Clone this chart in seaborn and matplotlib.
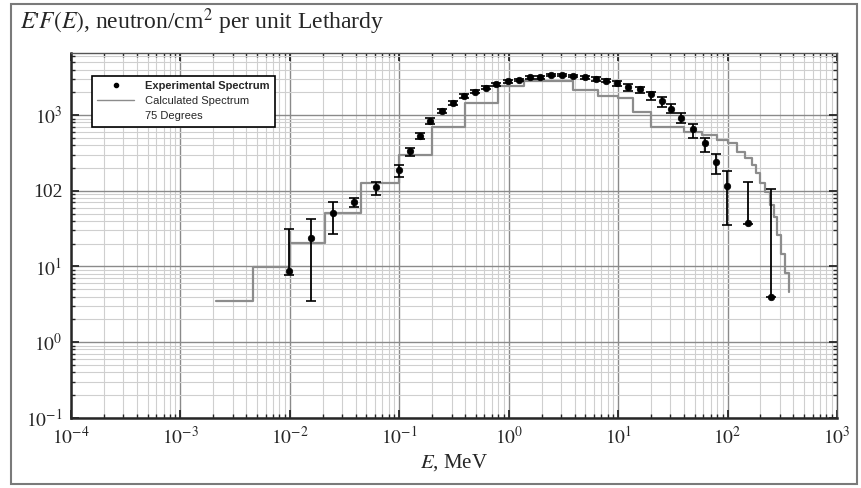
import numpy as np
import pandas as pd
import seaborn as sns
import matplotlib.pyplot as plt
from matplotlib.lines import Line2D
from matplotlib.patches import Rectangle
from matplotlib.ticker import LogLocator, FixedLocator, FixedFormatter, NullFormatter

# calculated spectrum (step histogram, left bin edges + level)
calc_E = [2.1e-3, 4.6e-3, 0.01, 0.021, 0.045, 0.1, 0.2, 0.4, 0.8, 1.38, 3.9, 6.5, 10, 13.8, 20,
          40, 58, 80, 100, 122, 145, 167, 183, 199, 221, 245, 267, 282, 307, 336, 368]
calc_F = [3.46, 9.85, 20.1, 51, 125, 296, 700, 1455, 2419, 2817, 2174, 1784, 1679, 1106, 700,
          601, 544, 467, 422, 327, 267, 218, 169, 125, 96.7, 64.5, 45.2, 25.9, 14.8, 8.06, 4.6]

# experimental spectrum with error bounds
exp_E = [0.0099, 0.0156, 0.0247, 0.0386, 0.0614, 0.100, 0.124, 0.155, 0.191, 0.245, 0.312, 0.394,
         0.493, 0.618, 0.767, 0.981, 1.25, 1.57, 1.94, 2.44, 3.06, 3.90, 4.99, 6.30, 7.77, 9.72,
         12.4, 15.7, 19.9, 25.1, 30.5, 37.7, 48.8, 62.4, 78.7, 98.5, 155, 249]
exp_F = [8.7, 23.4, 50.1, 71.3, 112.6, 187, 334, 528, 833, 1129, 1455, 1784, 2033, 2297, 2547,
         2817, 2904, 3153, 3153, 3381, 3381, 3311, 3153, 2994, 2842, 2627, 2367, 2188, 1878, 1546,
         1190, 921, 647, 430, 241, 115, 36.9, 4.0]
exp_hi = [30.8, 42.1, 71.3, 80.5, 128.8, 218, 362, 583, 904, 1200, 1540, 1880, 2150, 2420, 2680,
          2950, 3030, 3280, 3280, 3500, 3500, 3430, 3300, 3150, 3000, 2842, 2570, 2380, 2033, 1714,
          1398, 1073, 760, 492, 305, 183, 131, 107]
exp_lo = [7.65, 3.46, 26.4, 61.2, 87.5, 153, 287, 486, 753, 1060, 1350, 1700, 1930, 2180, 2420,
          2680, 2780, 3020, 3020, 3260, 3260, 3190, 3020, 2860, 2700, 2440, 2100, 1980, 1580, 1264,
          1053, 777, 492, 327, 166, 35.1, 36.0, 3.9]

ytick_vals = [0.1, 1, 10, 100, 1000]
ytick_labels = [r'$10^{-1}$', r'$10^{0}$', r'$10^{1}$', '102', r'$10^{3}$']
xtick_vals = [1e-4, 1e-3, 1e-2, 1e-1, 1, 10, 100, 1000]
xtick_labels = [r'$10^{-4}$', r'$10^{-3}$', r'$10^{-2}$', r'$10^{-1}$', r'$10^{0}$',
                r'$10^{1}$', r'$10^{2}$', r'$10^{3}$']

calc = pd.DataFrame({'E': calc_E, 'F': calc_F})
exp = pd.DataFrame({'E': exp_E, 'F': exp_F, 'hi': exp_hi, 'lo': exp_lo})

sns.set_style("ticks")
plt.rcParams['font.family'] = ['Liberation Serif', 'DejaVu Serif']
plt.rcParams['mathtext.fontset'] = 'stix'

fig = plt.figure(figsize=(8.61, 4.88), dpi=100)
ax = fig.add_axes([0.0825, 0.144, 0.8896, 0.748])

ax.set_xscale('log')
ax.set_yscale('log')
ax.set_xlim(1e-4, 1e3)
ax.set_ylim(0.1, 6670)

# grid
ax.xaxis.set_minor_locator(LogLocator(base=10, subs=np.arange(2, 10)))
ax.yaxis.set_minor_locator(LogLocator(base=10, subs=np.arange(2, 10)))
ax.grid(which='major', color='#8a8a8a', lw=1.0)
ax.grid(which='minor', color='#cfcfcf', lw=0.8)
ax.set_axisbelow(True)

# calculated spectrum
sns.lineplot(data=calc, x='E', y='F', drawstyle='steps-post', color='#8c8c8c', lw=1.6,
             estimator=None, ax=ax, legend=False)

# experimental points
ax.errorbar(exp.E, exp.F, yerr=[exp.F - exp.lo, exp.hi - exp.F], fmt='none',
            ecolor='black', elinewidth=1.3, capsize=3.5, capthick=1.2, zorder=4)
sns.scatterplot(data=exp, x='E', y='F', color='black', s=22, edgecolor='black',
                linewidth=0.5, ax=ax, zorder=5, legend=False)

ax.yaxis.set_major_locator(FixedLocator(ytick_vals))
ax.yaxis.set_major_formatter(FixedFormatter(ytick_labels))
ax.yaxis.set_minor_formatter(NullFormatter())
ax.xaxis.set_major_locator(FixedLocator(xtick_vals))
ax.xaxis.set_major_formatter(FixedFormatter(xtick_labels))
ax.xaxis.set_minor_formatter(NullFormatter())

ax.tick_params(which='both', direction='in', top=True, right=True, labelsize=14)
ax.tick_params(which='major', length=6, width=1.3, pad=6)
ax.tick_params(which='minor', length=3, width=1.0)
for side in ['left', 'bottom']:
    ax.spines[side].set_linewidth(1.8)
for side in ['top', 'right']:
    ax.spines[side].set_linewidth(1.0)
    ax.spines[side].set_color('#555555')

ax.set_xlabel(r'$E$, MeV', fontsize=15, labelpad=3)
ax.set_ylabel('')
fig.text(0.023, 0.955, r"$E$'$F(E)$, neutron/cm$^2$ per unit Lethardy", fontsize=17,
         ha='left', va='center')

# legend
handles = [Line2D([], [], color='black', marker='.', ls='none', markersize=6),
           Line2D([], [], color='#8c8c8c', lw=1.0),
           Line2D([], [], color='none')]
labels = ['Experimental Spectrum', 'Calculated Spectrum', '75 Degrees']
leg = ax.legend(handles, labels, loc='upper left', bbox_to_anchor=(0.027, 0.937),
                frameon=True, fancybox=False, framealpha=1, edgecolor='black',
                prop={'family': 'Liberation Sans', 'size': 8}, handlelength=3.3,
                handletextpad=1.0, labelspacing=0.45, borderpad=0.5, borderaxespad=0)
leg.get_frame().set_linewidth(1.2)
leg.get_texts()[0].set_fontweight('bold')

# outer frame
fig.patches.append(Rectangle((11 / 861, 4 / 488), 846 / 861, 480 / 488, fill=False,
                             edgecolor='#7a7a7a', lw=1.5, transform=fig.transFigure))

fig.savefig('out.png', dpi=100)
